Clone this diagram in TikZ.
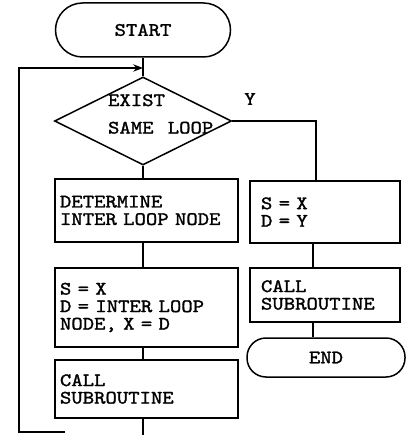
\documentclass[tikz,border=0pt]{standalone}
\usepackage{fontspec}
\usepackage{tikz}
\usetikzlibrary{arrows.meta, shapes.geometric}
\newfontfamily\typefont[FakeStretch=1.14, FakeBold=1.5,
  WordSpace=1.25]{lmmono10-regular.otf}

\begin{document}
\begin{tikzpicture}[>=Stealth, x=1pt, y=-1pt, line width=1.5pt,
    txt/.style={font=\typefont\fontsize{19}{17.5}\selectfont},
    term/.style={draw, txt, rounded corners=19pt, minimum width=158pt,
                 minimum height=39pt},
    box/.style={draw, txt, align=left, inner xsep=5pt,
                text width=173pt, minimum height=63pt},
    rbox/.style={box, text width=128pt, inner xsep=11pt},
    decision/.style={draw, diamond, inner sep=0pt,
                     minimum width=177pt, minimum height=88pt}]
  \useasboundingbox (0,0) rectangle (409,435);
  % Start and test
  \node[term, rounded corners=27pt, minimum width=175pt,
        minimum height=54pt] (start) at (143,30) {START};
  \node[decision] (exist) at (143,121) {};
  \node[txt, align=left, anchor=west] (existtxt) at (104,114)
    {EXIST\\[10pt] SAME LOOP};
  \node[txt] (ylab) at (250,99) {Y};
  \coordinate (join) at (143,68);
  % Left branch
  \node[box] (det) at (146.5,210.5) {DETERMINE\\INTER LOOP NODE};
  \node[box, minimum height=79pt] (assign) at (146.5,307.5)
    {S = X\\D = INTER LOOP\\NODE, X = D};
  \node[box, minimum height=58pt] (calll) at (146.5,389)
    {CALL\\SUBROUTINE};
  % Right branch
  \node[rbox, minimum height=62pt] (sx) at (325,212) {S = X\\D = Y};
  \node[rbox, minimum height=54pt] (callr) at (325,295)
    {CALL\\SUBROUTINE};
  \node[term] (end) at (326,357.5) {END};
  % Loop back
  \coordinate (bottom) at (143,435);
  \coordinate (loopa) at (65,432);
  \coordinate (loopb) at (19,432);
  % Connectors
  \draw (start) -- (exist);
  \draw (det.south -| join) -- (assign.north -| join);
  \draw (assign.south -| join) -- (calll.north -| join);
  \draw (calll.south -| bottom) -- (bottom);
  \draw (exist.east) -| ([xshift=-9pt]sx.north);
  \draw ([xshift=-12pt]sx.south) -- ([xshift=-12pt]callr.north);
  \draw ([xshift=-12pt]callr.south) -- ([xshift=-13pt]end.north);
  \draw (exist.south) -- (det.north -| exist.south);
  \draw[->] (loopa) -- (loopb) |- (join);
\end{tikzpicture}
\end{document}
